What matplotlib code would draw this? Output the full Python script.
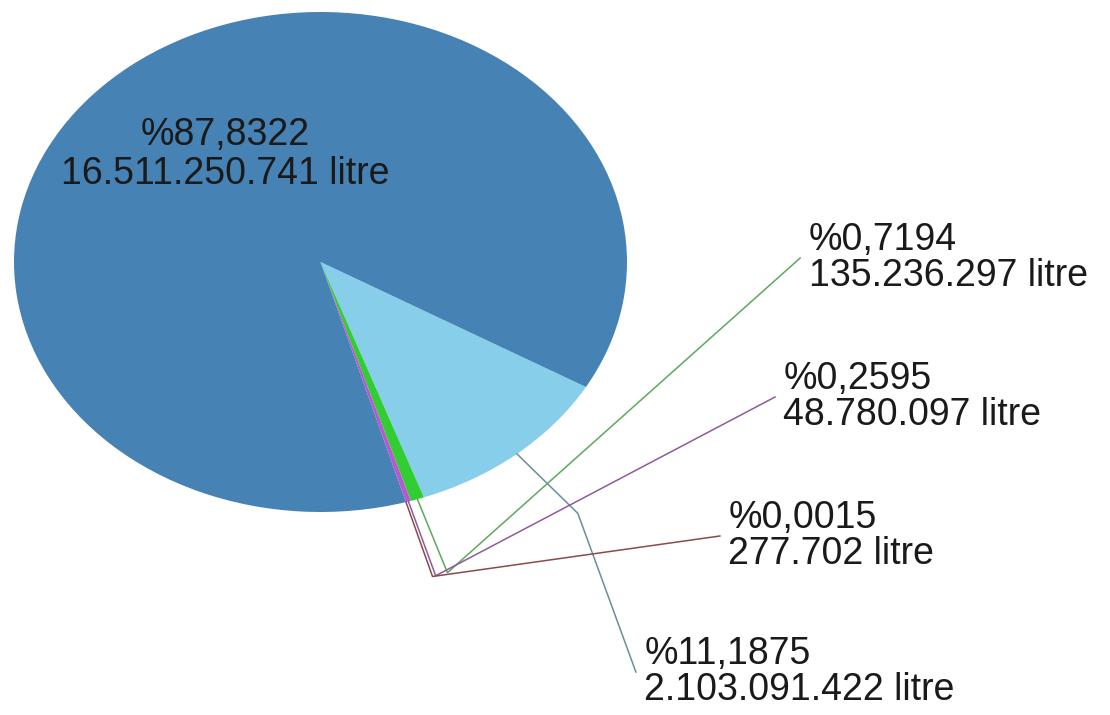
import matplotlib.pyplot as plt
import numpy as np

plt.rcParams['font.family'] = ['Liberation Sans', 'DejaVu Sans']

# litres per category (slice order: clockwise starting from -30 deg)
litres = [2103091422, 135236297, 48780097, 277702, 16511250741]
slice_colors = ["#87CEEB", "#32CD32", "#BA55D3", "#A52A2A", "#4682B4"]
leader_colors = ["#6A8E98", "#5EA85E", "#8E5A9E", "#8B4A4A", None]

# label anchors in pie coordinates (None -> label drawn inside the slice)
label_xy = [(1.029, -1.64), (1.565, 0.016), (1.483, -0.54), (1.303, -1.096), None]
inside_xy = (-0.31, 0.43)

total = sum(litres)


def pct_text(v):
    return "%" + f"{100 * v / total:.4f}".replace(".", ",")


def litre_text(v):
    return f"{v:,}".replace(",", ".") + " litre"


fig = plt.figure(figsize=(11.1, 7.15), dpi=100)
ax = fig.add_axes([14 / 1110, (715 - 512) / 715, 613 / 1110, 500 / 715])

wedges, _ = ax.pie(litres, colors=slice_colors, startangle=-30,
                   counterclock=False, wedgeprops=dict(linewidth=0))
ax.set_aspect('auto')
ax.set_xlim(-1, 1)
ax.set_ylim(-1, 1)
ax.axis('off')

for w, v, col, pos in zip(wedges, litres, leader_colors, label_xy):
    label = pct_text(v) + "\n" + litre_text(v)
    if pos is None:
        ax.text(inside_xy[0], inside_xy[1], label, ha='center', va='center',
                fontsize=27, color='#1a1a1a', linespacing=1.1)
        continue
    mid = np.deg2rad((w.theta1 + w.theta2) / 2)
    cx, cy = np.cos(mid), np.sin(mid)
    xs = [cx, 1.31 * cx, pos[0]]
    ys = [cy, 1.31 * cy, pos[1]]
    ax.plot(xs, ys, color=col, lw=1.1, clip_on=False)
    ax.annotate(label, xy=pos, xytext=(6, 0), textcoords='offset points',
                ha='left', va='center', fontsize=27, color='#1a1a1a',
                linespacing=1.02, annotation_clip=False)

fig.savefig("out.png", dpi=100)
